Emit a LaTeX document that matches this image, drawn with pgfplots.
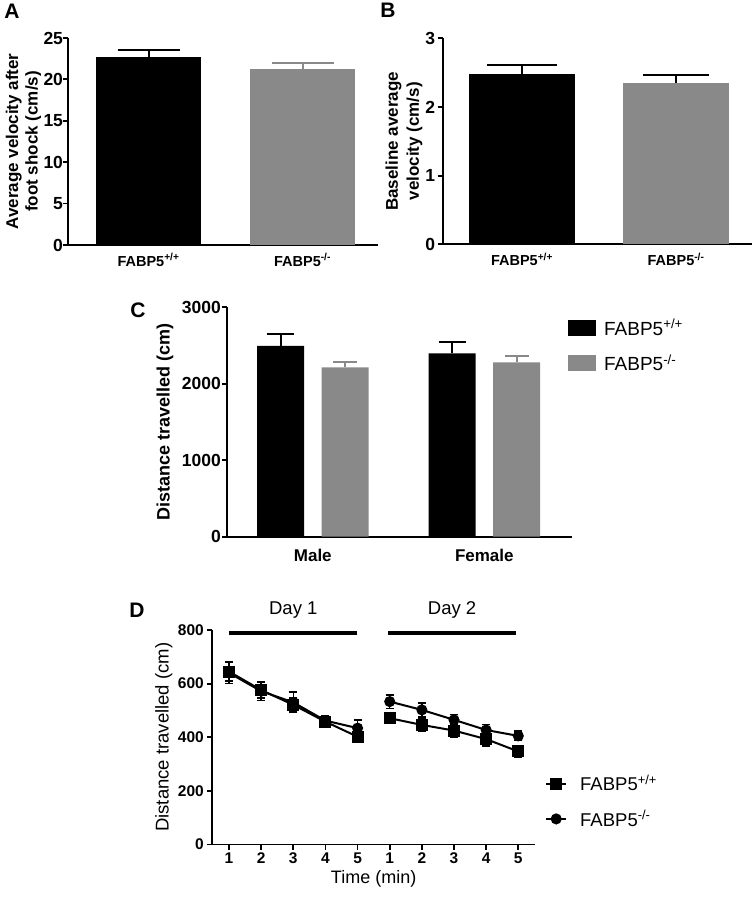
\documentclass[border=0pt]{standalone}
\usepackage{fontspec}
\setmainfont{Liberation Sans}
\usepackage{pgfplots}
\pgfplotsset{compat=1.18}
\definecolor{barg}{RGB}{137,137,137}
\pgfplotsset{
  panel/.style={
    scale only axis,
    anchor=south west,
    axis x line*=bottom,
    axis y line*=left,
    axis line style={-, line width=1.8pt, black},
    tick style={line width=1.8pt, black},
    tick align=outside,
    major tick length=5pt,
    /pgf/number format/assume math mode=true,
    /pgf/number format/1000 sep={},
    yticklabel style={font=\bfseries\fontsize{17.5}{17.5}\selectfont},
    xticklabel style={font=\bfseries\fontsize{14.5}{14.5}\selectfont},
    clip=false,
  },
  barpanel/.style={
    panel,
    xtick style={draw=none},
    ymin=0,
  },
}
\newcommand{\wt}{FABP5\textsuperscript{+/+}}
\newcommand{\ko}{FABP5\textsuperscript{-/-}}
\begin{document}
\begin{tikzpicture}[x=1pt,y=1pt]
\useasboundingbox (0,0) rectangle (755,900);
% panel letters
\node[font=\bfseries\fontsize{21}{21}\selectfont] at (12,889) {A};
\node[font=\bfseries\fontsize{21}{21}\selectfont] at (388,890) {B};
\node[font=\bfseries\fontsize{21}{21}\selectfont] at (138,590) {C};
\node[font=\bfseries\fontsize{21}{21}\selectfont] at (137,290) {D};

% ---------- Panel A ----------
\begin{axis}[barpanel, at={(68pt,655pt)}, width=310pt, height=207pt,
  xmin=0, xmax=310, ymax=25, ytick={0,5,...,25},
  yticklabel style={xshift=3.5pt},
  xtick={80.5,234.5}, xticklabels={\wt,\ko},
  ylabel={Average velocity after\\foot shock (cm/s)},
  ylabel style={align=center, font=\bfseries\fontsize{17}{19.5}\selectfont,
    at={(axis description cs:-0.1435,0.5)}, anchor=center},
]
\addplot[ybar, bar shift=0pt, bar width=105, fill=black, draw=none,
  error bars/.cd, y dir=plus, y explicit,
  error bar style={line width=2pt, black},
  error mark options={rotate=90, mark size=31pt, line width=2pt, black}]
  coordinates {(80.5,22.67) +- (0,0.88)};
\addplot[ybar, bar shift=0pt, bar width=105, fill=barg, draw=none,
  error bars/.cd, y dir=plus, y explicit,
  error bar style={line width=2pt, barg},
  error mark options={rotate=90, mark size=31pt, line width=2pt, barg}]
  coordinates {(234.5,21.26) +- (0,0.68)};
\end{axis}

% ---------- Panel B ----------
\begin{axis}[barpanel, at={(442.7pt,655.7pt)}, width=309.3pt, height=206pt,
  xmin=0, xmax=309.3, ymax=3, ytick={0,1,2,3},
  yticklabel style={xshift=1pt},
  xtick={79.3,233.3}, xticklabels={\wt,\ko},
  ylabel={Baseline average\\velocity (cm/s)},
  ylabel style={align=center, font=\bfseries\fontsize{17}{21}\selectfont,
    at={(axis description cs:-0.125,0.5)}, anchor=center},
]
\addplot[ybar, bar shift=0pt, bar width=106, fill=black, draw=none,
  error bars/.cd, y dir=plus, y explicit,
  error bar style={line width=2pt, black},
  error mark options={rotate=90, mark size=35pt, line width=2pt, black}]
  coordinates {(79.3,2.485) +- (0,0.125)};
\addplot[ybar, bar shift=0pt, bar width=106, fill=barg, draw=none,
  error bars/.cd, y dir=plus, y explicit,
  error bar style={line width=2pt, black},
  error mark options={rotate=90, mark size=33pt, line width=2pt, black}]
  coordinates {(233.3,2.35) +- (0,0.12)};
\end{axis}

% ---------- Panel C ----------
\begin{axis}[barpanel, at={(227.3pt,363.3pt)}, width=344.4pt, height=229.4pt,
  xmin=0, xmax=344.4, ymax=3000, ytick={0,1000,2000,3000},
  yticklabel style={xshift=2pt},
  xtick={85.5,257}, xticklabels={Male,Female},
  xticklabel style={font=\bfseries\fontsize{17}{17}\selectfont, yshift=-4pt},
  ylabel={Distance travelled (cm)},
  ylabel style={font=\bfseries\fontsize{18}{18}\selectfont,
    at={(axis description cs:-0.181,0.5)}, anchor=center},
  legend style={at={(0.989,0.962)}, anchor=north west, draw=none, fill=none,
    font=\fontsize{19}{19}\selectfont, row sep=12pt, inner sep=0pt,
    nodes={inner sep=3pt}},
  legend cell align=left,
]
\addplot[ybar, bar shift=0pt, bar width=47, fill=black, draw=none,
  legend image code/.code={\fill[black] (0pt,-8pt) rectangle (28pt,8pt); \path (33pt,0pt);},
  error bars/.cd, y dir=plus, y explicit,
  error bar style={line width=2pt, black},
  error mark options={rotate=90, mark size=13.5pt, line width=2pt, black}]
  coordinates {(53.4,2494) +- (0,161) (224.7,2398) +- (0,144)};
\addlegendentry{\wt}
\addplot[ybar, bar shift=0pt, bar width=47, fill=barg, draw=none,
  legend image code/.code={\fill[barg] (0pt,-8pt) rectangle (28pt,8pt); \path (33pt,0pt);},
  error bars/.cd, y dir=plus, y explicit,
  error bar style={line width=2pt, barg},
  error mark options={rotate=90, mark size=12pt, line width=2pt, barg}]
  coordinates {(117.7,2215) +- (0,66) (289.4,2281) +- (0,86)};
\addlegendentry{\ko}
\end{axis}

% ---------- Panel D ----------
\begin{axis}[panel, at={(212.3pt,55.5pt)}, width=322.7pt, height=214.5pt,
  xmin=0.48, xmax=10.52, ymin=0, ymax=800, ytick={0,200,...,800},
  xtick={1,...,10}, xticklabels={1,2,3,4,5,1,2,3,4,5},
  yticklabel style={font=\bfseries\fontsize{15.5}{15.5}\selectfont},
  xticklabel style={font=\bfseries\fontsize{15.5}{15.5}\selectfont},
  xlabel={Time (min)},
  xlabel style={font=\fontsize{18}{18}\selectfont},
  ylabel={Distance travelled (cm)},
  ylabel style={font=\fontsize{18.5}{18.5}\selectfont,
    at={(axis description cs:-0.15,0.5)}, anchor=center},
  legend style={at={(1.031,0.338)}, anchor=north west, draw=none, fill=none,
    font=\fontsize{18.5}{18.5}\selectfont, row sep=12pt, inner sep=0pt,
    nodes={inner sep=3pt}},
  legend cell align=left,
  legend image code/.code={\draw[mark repeat=2,mark phase=2,#1] plot coordinates {(0pt,0pt) (10pt,0pt) (20pt,0pt)}; \path (30pt,0pt);},
]
\addplot[black, line width=2pt, mark=square*, mark size=5pt,
  mark options={solid},
  error bars/.cd, y dir=both, y explicit,
  error bar style={line width=1.5pt, black},
  error mark options={rotate=90, mark size=4pt, line width=1.5pt, black}]
  table[y error=e] {
x y e
1 645 35
2 576 30
3 521 25
4 458 20
5 402 20
};
\addlegendentry{\wt}
\addplot[forget plot, black, line width=2pt, mark=square*, mark size=5pt,
  error bars/.cd, y dir=both, y explicit,
  error bar style={line width=1.5pt, black},
  error mark options={rotate=90, mark size=4pt, line width=1.5pt, black}]
  table[y error=e] {
x y e
6 471 20
7 446 25
8 425 25
9 393 25
10 347 20
};
\addplot[black, line width=2pt, mark=*, mark size=4.5pt,
  error bars/.cd, y dir=both, y explicit,
  error bar style={line width=1.5pt, black},
  error mark options={rotate=90, mark size=4pt, line width=1.5pt, black}]
  table[y error=e] {
x y e
1 640 40
2 572 35
3 530 38
4 462 20
5 434 30
};
\addlegendentry{\ko}
\addplot[forget plot, black, line width=2pt, mark=*, mark size=4.5pt,
  error bars/.cd, y dir=both, y explicit,
  error bar style={line width=1.5pt, black},
  error mark options={rotate=90, mark size=4pt, line width=1.5pt, black}]
  table[y error=e] {
x y e
6 533 25
7 502 25
8 465 20
9 427 20
10 405 18
};
\draw[line width=4pt] (axis cs:1,788) -- (axis cs:4.99,788);
\draw[line width=4pt] (axis cs:5.95,788) -- (axis cs:9.93,788);
\node[font=\fontsize{18.5}{18.5}\selectfont] at (axis cs:3,873) {Day 1};
\node[font=\fontsize{18.5}{18.5}\selectfont] at (axis cs:7.94,873) {Day 2};
\end{axis}
\end{tikzpicture}
\end{document}
